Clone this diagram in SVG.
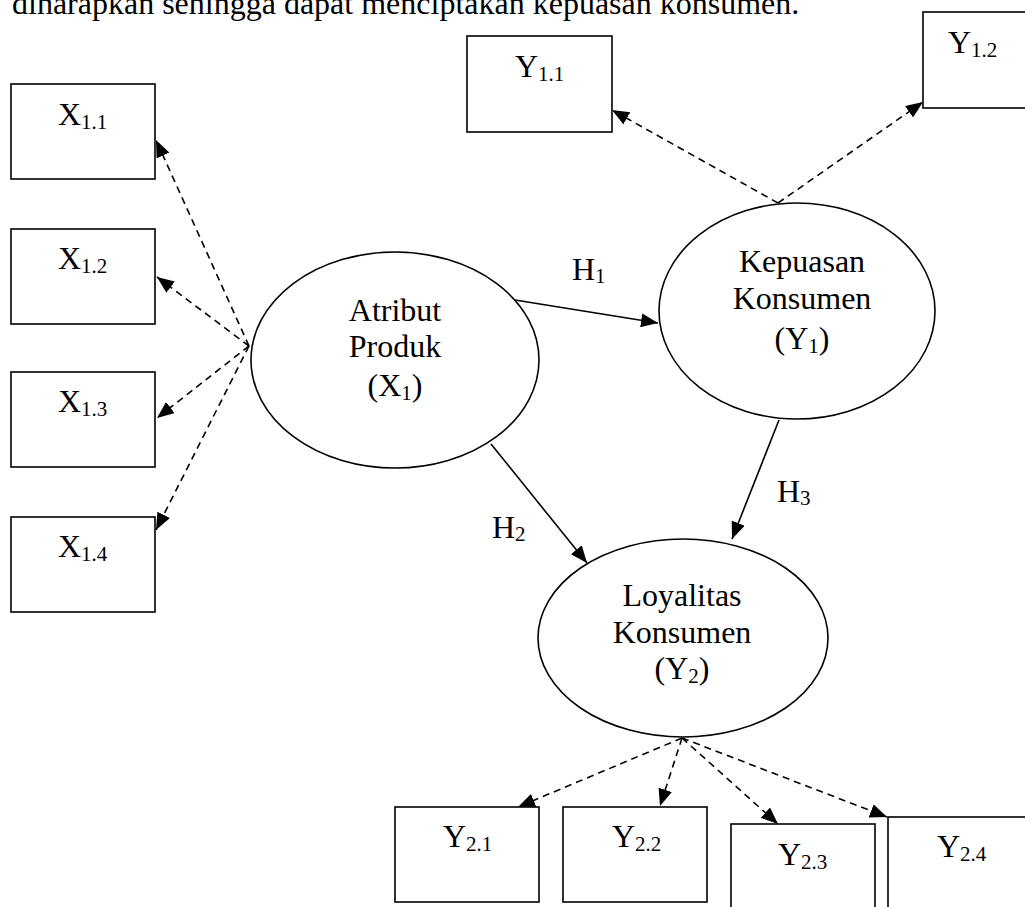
<svg xmlns="http://www.w3.org/2000/svg" width="1025" height="907" viewBox="0 0 1025 907">
  <style>
    text { font-family: "Liberation Serif", "Times New Roman", serif; font-size: 32px; fill: #000; }
    .sub { font-size: 21px; }
    .box { fill: #fff; stroke: #000; stroke-width: 1.6; }
    .lat { fill: #fff; stroke: #000; stroke-width: 1.6; }
    .solid { fill: none; stroke: #000; stroke-width: 1.6; marker-end: url(#arrow); }
    .dash { fill: none; stroke: #000; stroke-width: 1.6; stroke-dasharray: 7 5; marker-end: url(#arrow); }
    .mid { text-anchor: middle; }
  </style>
  <defs>
    <marker id="arrow" markerUnits="userSpaceOnUse" markerWidth="17" markerHeight="14" refX="17" refY="7" orient="auto">
      <path d="M0,0 L17,7 L0,14 z" fill="#000"/>
    </marker>
  </defs>

  <rect width="1025" height="907" fill="#fff"/>

  <!-- running paragraph line above the figure -->
  <text x="12" y="14">diharapkan sehingga dapat menciptakan kepuasan konsumen.</text>

  <!-- connectors -->
  <g id="connectors">
    <!-- Atribut Produk indicators -->
    <line class="dash" x1="249" y1="346" x2="156" y2="140"/>
    <line class="dash" x1="249" y1="346" x2="157" y2="277"/>
    <line class="dash" x1="249" y1="346" x2="157" y2="418"/>
    <line class="dash" x1="249" y1="346" x2="156" y2="530"/>
    <!-- Kepuasan Konsumen indicators -->
    <line class="dash" x1="778" y1="203" x2="612" y2="110"/>
    <line class="dash" x1="778" y1="203" x2="923" y2="102"/>
    <!-- Loyalitas Konsumen indicators -->
    <line class="dash" x1="682" y1="738" x2="518" y2="807"/>
    <line class="dash" x1="682" y1="738" x2="660" y2="806"/>
    <line class="dash" x1="682" y1="738" x2="778" y2="824"/>
    <line class="dash" x1="682" y1="738" x2="887" y2="817"/>
    <!-- hypotheses -->
    <line class="solid" x1="515" y1="300" x2="658" y2="323"/>
    <line class="solid" x1="491" y1="444" x2="587" y2="563"/>
    <line class="solid" x1="779" y1="420" x2="732" y2="539"/>
    <text x="572" y="280">H<tspan class="sub" dy="3">1</tspan></text>
    <text x="492" y="538">H<tspan class="sub" dy="3">2</tspan></text>
    <text x="777" y="502">H<tspan class="sub" dy="3">3</tspan></text>
  </g>

  <!-- latent variables -->
  <g id="atribut-produk">
    <ellipse class="lat" cx="395" cy="360" rx="144" ry="108"/>
    <text class="mid" x="395" y="321">Atribut</text>
    <text class="mid" x="395" y="357">Produk</text>
    <text class="mid" x="395" y="396">(X<tspan class="sub" dy="4">1</tspan><tspan dy="-4">)</tspan></text>
  </g>
  <g id="kepuasan-konsumen">
    <ellipse class="lat" cx="797" cy="311" rx="138" ry="108"/>
    <text class="mid" x="802" y="272">Kepuasan</text>
    <text class="mid" x="802" y="309">Konsumen</text>
    <text class="mid" x="802" y="349">(Y<tspan class="sub" dy="4">1</tspan><tspan dy="-4">)</tspan></text>
  </g>
  <g id="loyalitas-konsumen">
    <ellipse class="lat" cx="683" cy="638" rx="145" ry="99"/>
    <text class="mid" x="682" y="606">Loyalitas</text>
    <text class="mid" x="682" y="643">Konsumen</text>
    <text class="mid" x="682" y="679">(Y<tspan class="sub" dy="4">2</tspan><tspan dy="-4">)</tspan></text>
  </g>

  <!-- indicators of X1 -->
  <g id="x11"><rect class="box" x="11" y="84" width="144" height="95"/><text x="58" y="125">X<tspan class="sub" dy="4">1.1</tspan></text></g>
  <g id="x12"><rect class="box" x="11" y="229" width="144" height="95"/><text x="58" y="269">X<tspan class="sub" dy="4">1.2</tspan></text></g>
  <g id="x13"><rect class="box" x="11" y="372" width="144" height="95"/><text x="58" y="412">X<tspan class="sub" dy="4">1.3</tspan></text></g>
  <g id="x14"><rect class="box" x="11" y="517" width="144" height="95"/><text x="58" y="557">X<tspan class="sub" dy="4">1.4</tspan></text></g>

  <!-- indicators of Y1 -->
  <g id="y11"><rect class="box" x="467" y="36" width="145" height="96"/><text x="515" y="77">Y<tspan class="sub" dy="4">1.1</tspan></text></g>
  <g id="y12"><rect class="box" x="923" y="12" width="110" height="96"/><text x="948" y="53">Y<tspan class="sub" dy="4">1.2</tspan></text></g>

  <!-- indicators of Y2 -->
  <g id="y21"><rect class="box" x="395" y="807" width="144" height="95"/><text x="443" y="847">Y<tspan class="sub" dy="4">2.1</tspan></text></g>
  <g id="y22"><rect class="box" x="563" y="807" width="144" height="95"/><text x="612" y="847">Y<tspan class="sub" dy="4">2.2</tspan></text></g>
  <g id="y23"><rect class="box" x="731" y="824" width="144" height="95"/><text x="778" y="865">Y<tspan class="sub" dy="4">2.3</tspan></text></g>
  <g id="y24"><rect class="box" x="888" y="817" width="145" height="95"/><text x="937" y="857">Y<tspan class="sub" dy="4">2.4</tspan></text></g>
</svg>
